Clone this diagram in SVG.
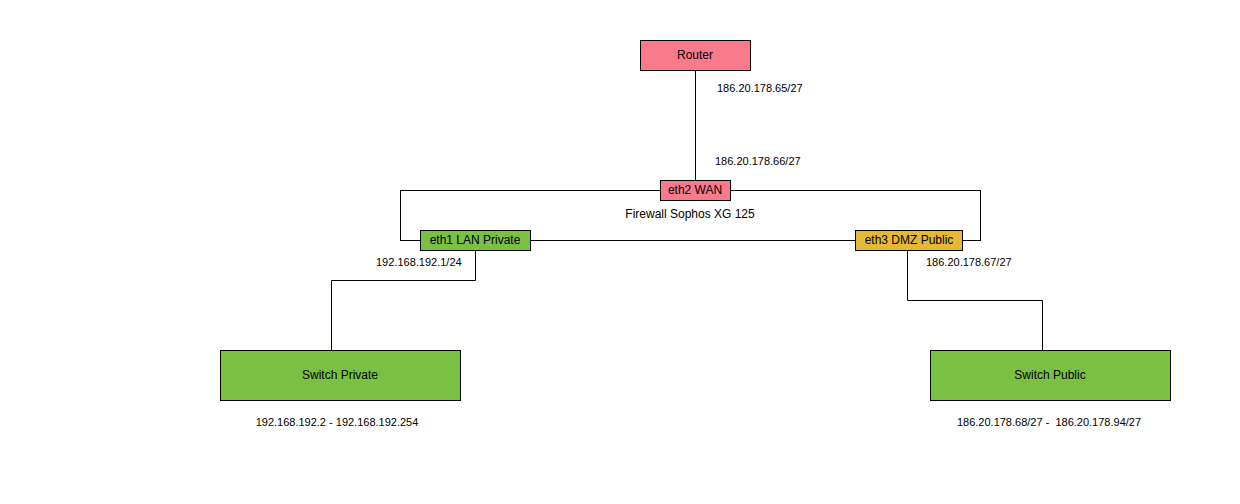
<svg xmlns="http://www.w3.org/2000/svg" width="1240" height="504" viewBox="0 0 1240 504">
<style>
.box{stroke:#000;stroke-width:1}
.red{fill:#f87a8b}
.green{fill:#7ac143}
.yellow{fill:#e5b935}
.t{font-family:"Liberation Sans",Arial,sans-serif;font-size:12px;fill:#000;text-anchor:middle;dominant-baseline:central}
.l{font-family:"Liberation Sans",Arial,sans-serif;font-size:11px;fill:#000}
.c{fill:none;stroke:#000;stroke-width:1}
</style>
<rect width="1240" height="504" fill="#fff"/>
<g id="connectors">
<path class="c" d="M695.5 70 V180"/>
<path class="c" d="M475.5 250 V280.5 H331.5 V350"/>
<path class="c" d="M907.5 250 V300.5 H1042.5 V350"/>
</g>
<g id="firewall">
<rect class="box" x="400.5" y="190.5" width="580" height="50" fill="#fff"/>
<text class="t" x="690" y="214">Firewall Sophos XG 125</text>
</g>
<g id="router">
<rect class="box red" x="640.5" y="40.5" width="110" height="30"/>
<text class="t" x="695" y="55">Router</text>
</g>
<g id="eth2">
<rect class="box red" x="660.5" y="180.5" width="70" height="20"/>
<text class="t" x="695" y="190">eth2 WAN</text>
</g>
<g id="eth1">
<rect class="box green" x="420.5" y="230.5" width="110" height="20"/>
<text class="t" x="475" y="240">eth1 LAN Private</text>
</g>
<g id="eth3">
<rect class="box yellow" x="855.5" y="230.5" width="107" height="20"/>
<text class="t" x="909" y="240">eth3 DMZ Public</text>
</g>
<g id="switch-private">
<rect class="box green" x="220.5" y="350.5" width="240" height="50"/>
<text class="t" x="340" y="375">Switch Private</text>
</g>
<g id="switch-public">
<rect class="box green" x="930.5" y="350.5" width="240" height="50"/>
<text class="t" x="1050" y="375">Switch Public</text>
</g>
<g id="labels">
<text class="l" x="717" y="92">186.20.178.65/27</text>
<text class="l" x="715" y="165">186.20.178.66/27</text>
<text class="l" x="376" y="266">192.168.192.1/24</text>
<text class="l" x="926" y="266">186.20.178.67/27</text>
<text class="l" x="337" y="426" text-anchor="middle">192.168.192.2 - 192.168.192.254</text>
<text class="l" x="1049" y="426" text-anchor="middle" xml:space="preserve">186.20.178.68/27 -  186.20.178.94/27</text>
</g>
</svg>
